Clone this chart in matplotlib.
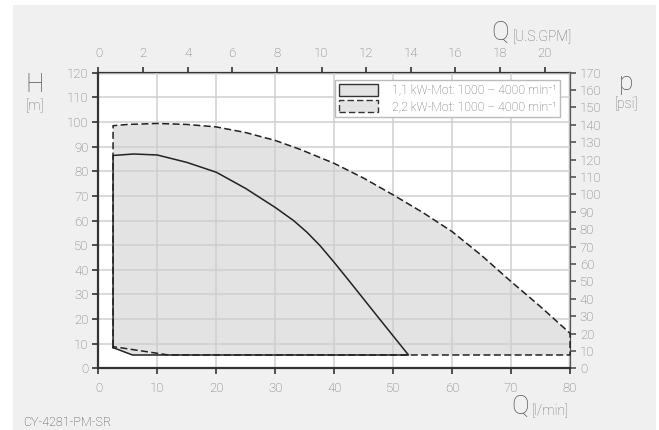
import matplotlib.pyplot as plt
from matplotlib.patches import Rectangle, Patch

# Pump characteristic envelope (Q in l/min, H in m)
# 1,1 kW motor, 1000 - 4000 min-1
small_q = [2.5, 2.5, 6, 10, 15, 20, 25, 30, 33.1, 35.4, 37.6, 40, 42.7, 44.4, 47.7, 52.6, 5.8, 2.5]
small_h = [8.4, 86.4, 87.0, 86.6, 83.6, 79.6, 73.0, 65.3, 60.0, 55.2, 49.8, 43.0, 35.0, 29.9, 20.0, 5.4, 5.4, 8.4]

# 2,2 kW motor, 1000 - 4000 min-1
big_q = [2.5, 2.5, 5, 10, 15, 20, 25, 30, 34.2, 40, 45, 50, 55, 60, 65, 70, 75, 80, 80, 11.9, 2.5]
big_h = [8.8, 98.5, 99.0, 99.4, 99.0, 98.0, 95.7, 92.5, 88.9, 83.2, 77.2, 70.4, 63.3, 55.5, 45.8, 35.2, 25.0, 14.2, 5.4, 5.4, 8.8]

labels = ["1,1 kW-Mot: 1000 – 4000 min⁻¹", "2,2 kW-Mot: 1000 – 4000 min⁻¹"]

LMIN_PER_GPM = 3.785
PSI_PER_M = 170 / 120

plt.rcParams['font.family'] = ['Roboto', 'DejaVu Sans']
plt.rcParams['font.weight'] = 'light'

TICK_TXT = '#6e6e6e'
DARK = '#333333'
FILL = '#e3e3e3'
DASH = (4.6, 2.2)

fig = plt.figure(figsize=(6.59, 4.30), dpi=100)
fig.patch.set_facecolor('white')
fig.patches.append(Rectangle((13 / 659, 0), 643 / 659, 425 / 430, transform=fig.transFigure,
                             facecolor='#f0f0f0', edgecolor='none', zorder=-10))

ax = fig.add_axes([0.1492, 0.1435, 0.7158, 0.6874])
ax.set_facecolor('white')
ax.set_xlim(0, 80)
ax.set_ylim(0, 120)
ax.set_xticks(range(0, 81, 10))
ax.set_yticks(range(0, 121, 10))
ax.set_axisbelow(True)
ax.grid(True, color='#cfcfcf', linewidth=1.1)

# filled envelopes
ax.fill(big_q, big_h, facecolor=FILL, edgecolor='none', zorder=0.3)
ax.fill(small_q, small_h, facecolor=FILL, edgecolor='none', zorder=0.3)

# outlines
ax.plot(big_q, big_h, color='#222222', linewidth=1.1, dashes=DASH, clip_on=False, zorder=3)
ax.plot(small_q, small_h, color='#222222', linewidth=1.1, clip_on=False, zorder=3)

for side in ['left', 'bottom']:
    ax.spines[side].set_color(DARK)
    ax.spines[side].set_linewidth(1.6)
ax.spines['top'].set_visible(False)
ax.spines['right'].set_visible(False)
ax.tick_params(direction='out', length=4, width=1.2, color=DARK, labelcolor=TICK_TXT, labelsize=9.5)
ax.tick_params(axis='x', pad=6)
ax.tick_params(axis='y', pad=3)

# top axis in U.S. GPM
top = ax.secondary_xaxis('top', functions=(lambda q: q / LMIN_PER_GPM, lambda g: g * LMIN_PER_GPM))
top.set_xticks(range(0, 21, 2))
top.spines['top'].set_color(DARK)
top.spines['top'].set_linewidth(1.6)
top.tick_params(direction='out', length=4, width=1.2, color=DARK, labelcolor=TICK_TXT, labelsize=9.5, pad=5)

# right axis in psi
right = ax.secondary_yaxis('right', functions=(lambda h: h * PSI_PER_M, lambda p: p / PSI_PER_M))
right.set_yticks(range(0, 171, 10))
right.spines['right'].set_color('#555555')
right.spines['right'].set_linewidth(1.6)
right.tick_params(direction='out', length=4, width=1.2, color='#555555', labelcolor=TICK_TXT, labelsize=9.5, pad=3)

# legend
handles = [Patch(facecolor=FILL, edgecolor=DARK, linewidth=1.0),
           Patch(facecolor=FILL, edgecolor=DARK, linewidth=1.0, linestyle=(0, DASH))]
leg = ax.legend(handles, labels, loc='upper right', bbox_to_anchor=(0.979, 0.975), borderaxespad=0,
                fontsize=8.8, labelcolor='#666666', handlelength=3.2, handleheight=1.1,
                handletextpad=1.1, fancybox=False, framealpha=1, edgecolor='#bbbbbb',
                borderpad=0.3, labelspacing=0.25)
leg.get_frame().set_linewidth(1.0)

# axis titles
def ftext(x, y, s, **kw):
    fig.text(x / 659, 1 - y / 430, s, **kw)

BIG = dict(fontsize=19, color='#555555', va='baseline', fontweight='light')
UNIT = dict(fontsize=10, color=TICK_TXT, va='baseline')
ftext(34.5, 92, "H", ha='center', **BIG)
ftext(35, 110, "[m]", ha='center', **UNIT)
ftext(500, 40, "Q", ha='center', **BIG)
ftext(513, 41, "[U.S.GPM]", ha='left', **UNIT)
ftext(626, 90, "p", ha='center', **BIG)
ftext(626, 108, "[psi]", ha='center', **UNIT)
ftext(520.5, 414, "Q", ha='center', **BIG)
ftext(532, 415, "[l/min]", ha='left', **UNIT)
ftext(23, 426, "CY-4281-PM-SR", fontsize=9, color='#444444', ha='left', va='baseline')

fig.savefig('out.png', dpi=100)
